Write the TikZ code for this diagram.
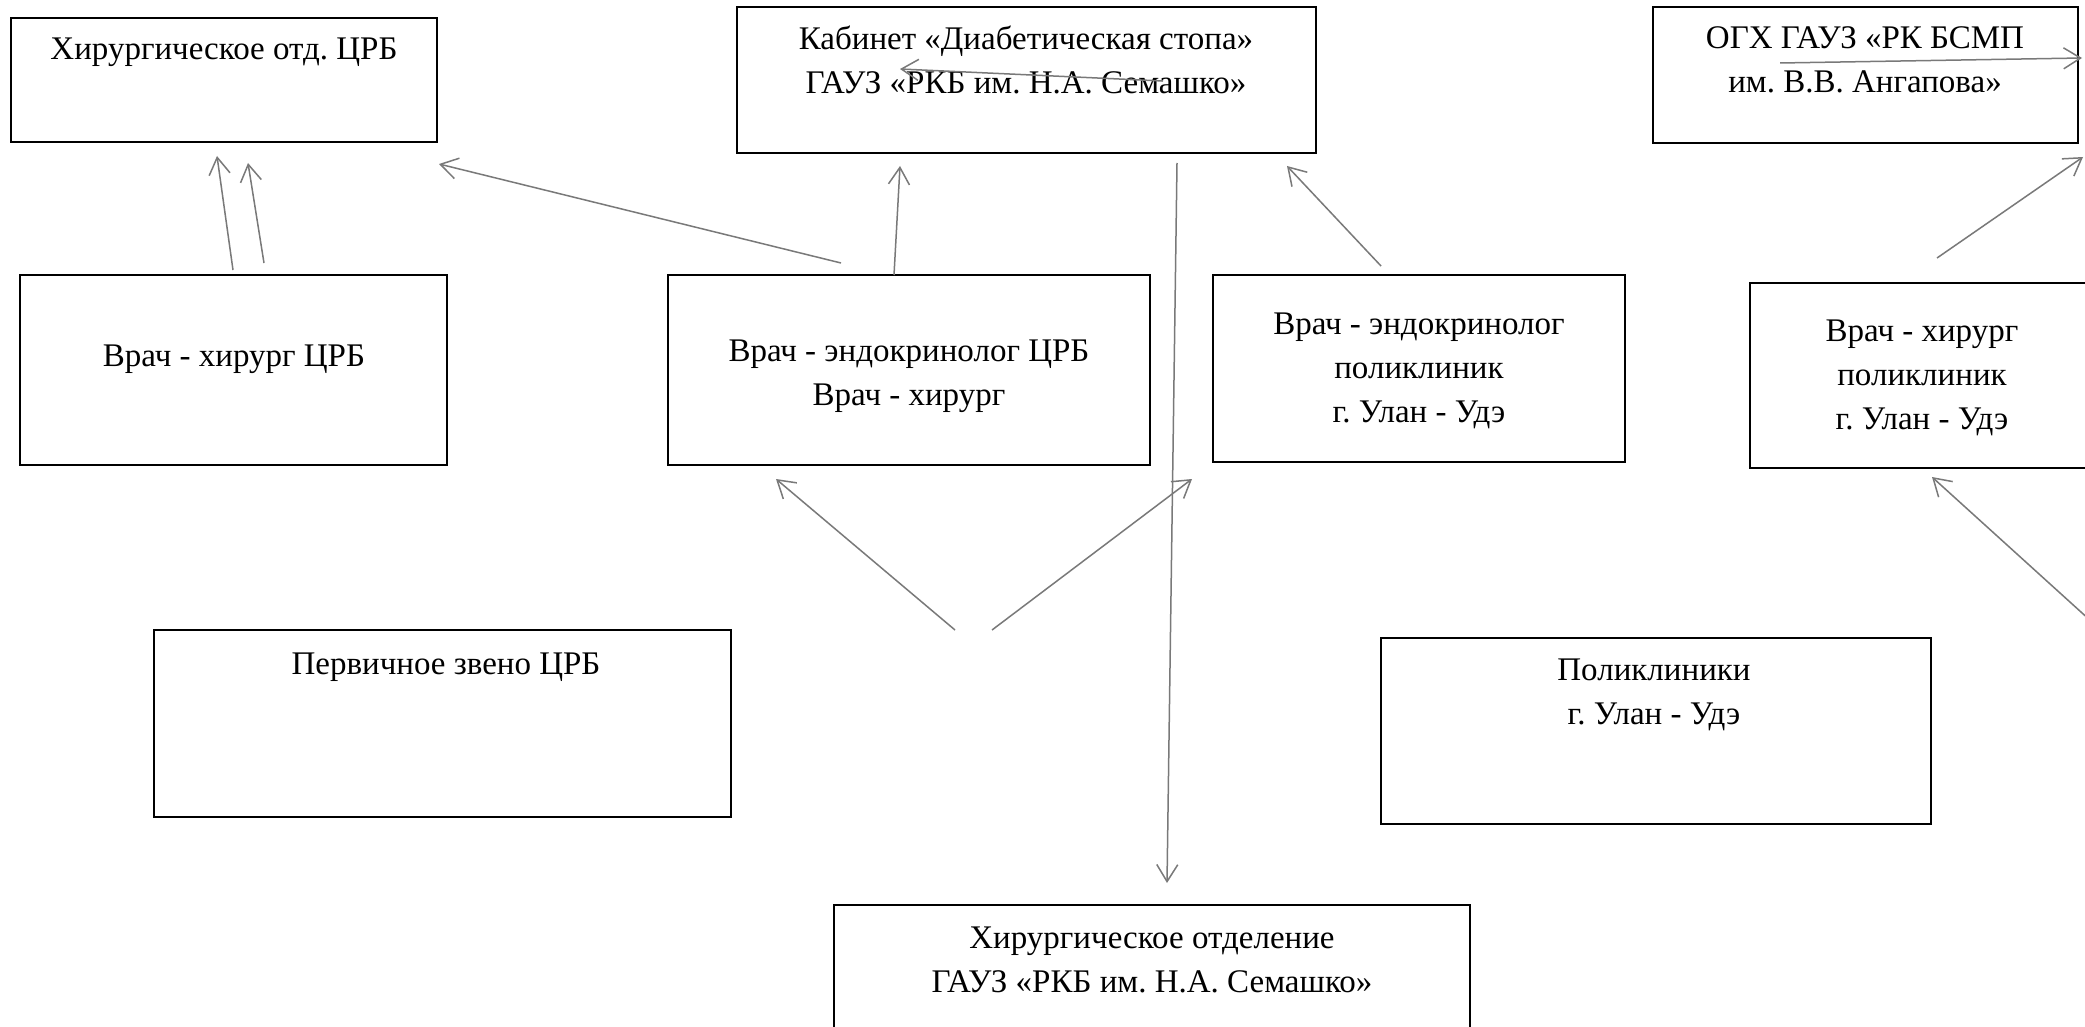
\documentclass[tikz,border=0pt]{standalone}
\usepackage{fontspec}
\setmainfont{Liberation Serif}
\usetikzlibrary{arrows.meta}
\frenchspacing
\begin{document}
\begin{tikzpicture}[x=1pt,y=-1pt,
  box/.style={draw=black,line width=2pt,rectangle},
  txt/.style={align=center,inner sep=0pt,font=\fontsize{33}{44}\selectfont},
  conn/.style={draw=gray!95!black,line width=1.5pt,-{Straight Barb[length=17pt,width=21pt,line width=1.5pt]}}]
\useasboundingbox[fill=white] (0,0) rectangle (2085,1027);
\clip (0,0) rectangle (2085,1027);
% boxes
\draw[box] (11,18) rectangle (437,142) coordinate (b1);
\draw[box] (737,7) rectangle (1316,153) coordinate (b2);
\draw[box] (1653,7) rectangle (2078,143) coordinate (b3);
\draw[box] (20,275) rectangle (447,465) coordinate (b4);
\draw[box] (668,275) rectangle (1150,465) coordinate (b5);
\draw[box] (1213,275) rectangle (1625,462) coordinate (b6);
\draw[box] (1750,283) rectangle (2110,468) coordinate (b7);
\draw[box] (154,630) rectangle (731,817) coordinate (b8);
\draw[box] (1381,638) rectangle (1931,824) coordinate (b9);
\draw[box] (834,905) rectangle (1470,1050) coordinate (b10);
% texts
\node[txt] (t1) at (224,52) {Хирургическое отд. ЦРБ};
\node[txt] (t2) at (1026,60) {Кабинет «Диабетическая стопа»\\ГАУЗ «РКБ им. Н.А. Семашко»};
\node[txt] (t3) at (1865,60) {ОГХ ГАУЗ «РК БСМП\\им. В.В. Ангапова»};
\node[txt] (t4) at (234,359) {Врач - хирург ЦРБ};
\node[txt] (t5) at (909,376) {Врач - эндокринолог ЦРБ\\Врач - хирург};
\node[txt] (t6) at (1419,371) {Врач - эндокринолог\\поликлиник\\г. Улан - Удэ};
\node[txt] (t7) at (1922,378) {Врач - хирург\\поликлиник\\г. Улан - Удэ};
\node[txt] (t8) at (446,667) {Первичное звено ЦРБ};
\node[txt] (t9) at (1654,695) {Поликлиники\\г. Улан - Удэ};
\node[txt] (t10) at (1152,960) {Хирургическое отделение\\ГАУЗ «РКБ им. Н.А. Семашко»};
% connector end points
\coordinate (a1s) at (233,270);  \coordinate (a1e) at (217,156);
\coordinate (a2s) at (264,263);  \coordinate (a2e) at (248,163);
\coordinate (a3s) at (841,263);  \coordinate (a3e) at (439,164);
\coordinate (a4s) at (894,275);  \coordinate (a4e) at (900,166);
\coordinate (a5s) at (1163,81);  \coordinate (a5e) at (900,69);
\coordinate (a6s) at (1177,163); \coordinate (a6e) at (1167,883);
\coordinate (a7s) at (1381,266); \coordinate (a7e) at (1287,166);
\coordinate (a8s) at (1780,63);  \coordinate (a8e) at (2082,58);
\coordinate (a9s) at (1937,258); \coordinate (a9e) at (2083,157);
\coordinate (a10s) at (2092,622); \coordinate (a10e) at (1932,477);
\coordinate (a11s) at (955,630); \coordinate (a11e) at (776,479);
\coordinate (a12s) at (992,630); \coordinate (a12e) at (1192,479);
% connectors
\draw[conn] (a1s) -- (a1e);
\draw[conn] (a2s) -- (a2e);
\draw[conn] (a3s) -- (a3e);
\draw[conn] (a4s) -- (a4e);
\draw[conn] (a5s) -- (a5e);
\draw[conn] (a6s) -- (a6e);
\draw[conn] (a7s) -- (a7e);
\draw[conn] (a8s) -- (a8e);
\draw[conn] (a9s) -- (a9e);
\draw[conn] (a10s) -- (a10e);
\draw[conn] (a11s) -- (a11e);
\draw[conn] (a12s) -- (a12e);
\end{tikzpicture}
\end{document}
